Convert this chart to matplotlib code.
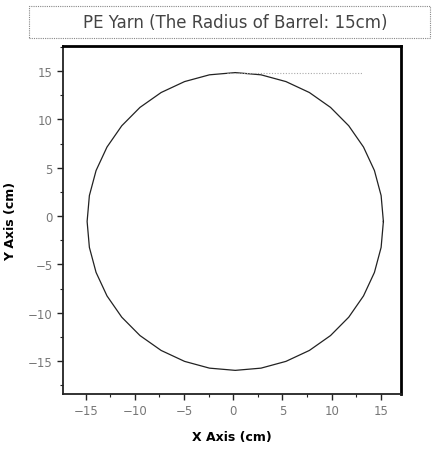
#!/usr/bin/env python3

import matplotlib
matplotlib.use('Agg')
import matplotlib.pyplot as plt
from matplotlib.patches import Rectangle
from matplotlib.ticker import MultipleLocator

# yarn path traced on the barrel (cm)
path_x = [15.25, 15.02, 14.34, 13.23, 11.73, 9.88, 7.73, 5.35, 2.82, 0.20,
          -2.42, -4.95, -7.33, -9.48, -11.33, -12.83, -13.94, -14.62, -14.85,
          -14.62, -13.94, -12.83, -11.33, -9.48, -7.33, -4.95, -2.42, 0.20,
          2.82, 5.35, 7.73, 9.88, 11.73, 13.23, 14.34, 15.02, 15.25]
path_y = [-0.55, 2.13, 4.72, 7.15, 9.35, 11.25, 12.79, 13.92, 14.62, 14.85,
          14.62, 13.92, 12.79, 11.25, 9.35, 7.15, 4.72, 2.13, -0.55,
          -3.23, -5.82, -8.25, -10.45, -12.35, -13.89, -15.02, -15.72, -15.95,
          -15.72, -15.02, -13.89, -12.35, -10.45, -8.25, -5.82, -3.23, -0.55]

# faint reference line near the top of the circle
ref_x = [-0.6, 13.2]
ref_y = [14.85, 14.85]

ticks = [-15, -10, -5, 0, 5, 10, 15]

fig = plt.figure(figsize=(4.36, 4.52), dpi=100)
ax = fig.add_axes([0.1445, 0.126, 0.775, 0.770])

ax.plot(path_x, path_y, color='#222222', lw=0.9)
ax.plot(ref_x, ref_y, color='#aaaaaa', lw=0.8, linestyle=(0, (1, 1.5)))

ax.set_xlim(-17.3, 17.03)
ax.set_ylim(-18.4, 17.6)
ax.set_xticks(ticks)
ax.set_yticks(ticks)
ax.xaxis.set_minor_locator(MultipleLocator(2.5))
ax.yaxis.set_minor_locator(MultipleLocator(2.5))
ax.tick_params(which='major', direction='out', length=4, width=1, color='#222222',
               labelcolor='#777777', labelsize=8.5)
ax.tick_params(which='minor', direction='out', length=2, width=0.8, color='#222222')
ax.tick_params(top=False, right=False, which='both')

for side in ['top', 'right']:
    ax.spines[side].set_linewidth(2)
    ax.spines[side].set_color('black')
for side in ['left', 'bottom']:
    ax.spines[side].set_linewidth(1.3)
    ax.spines[side].set_color('#222222')

ax.set_xlabel('X Axis (cm)', fontsize=9, fontweight='bold', labelpad=9)
ax.set_ylabel('Y Axis (cm)', fontsize=9, fontweight='bold', labelpad=8)

# title in a dotted box
fig.patches.append(Rectangle((29 / 436, 1 - 39 / 452), 401 / 436, 32 / 452,
                             transform=fig.transFigure, fill=False,
                             edgecolor='#888888', lw=0.8, linestyle=(0, (1, 1))))
fig.text(235 / 436, 1 - 23 / 452, 'PE Yarn (The Radius of Barrel: 15cm)',
         ha='center', va='center', fontsize=12, color='#444444')

fig.savefig('out.png', dpi=100)
